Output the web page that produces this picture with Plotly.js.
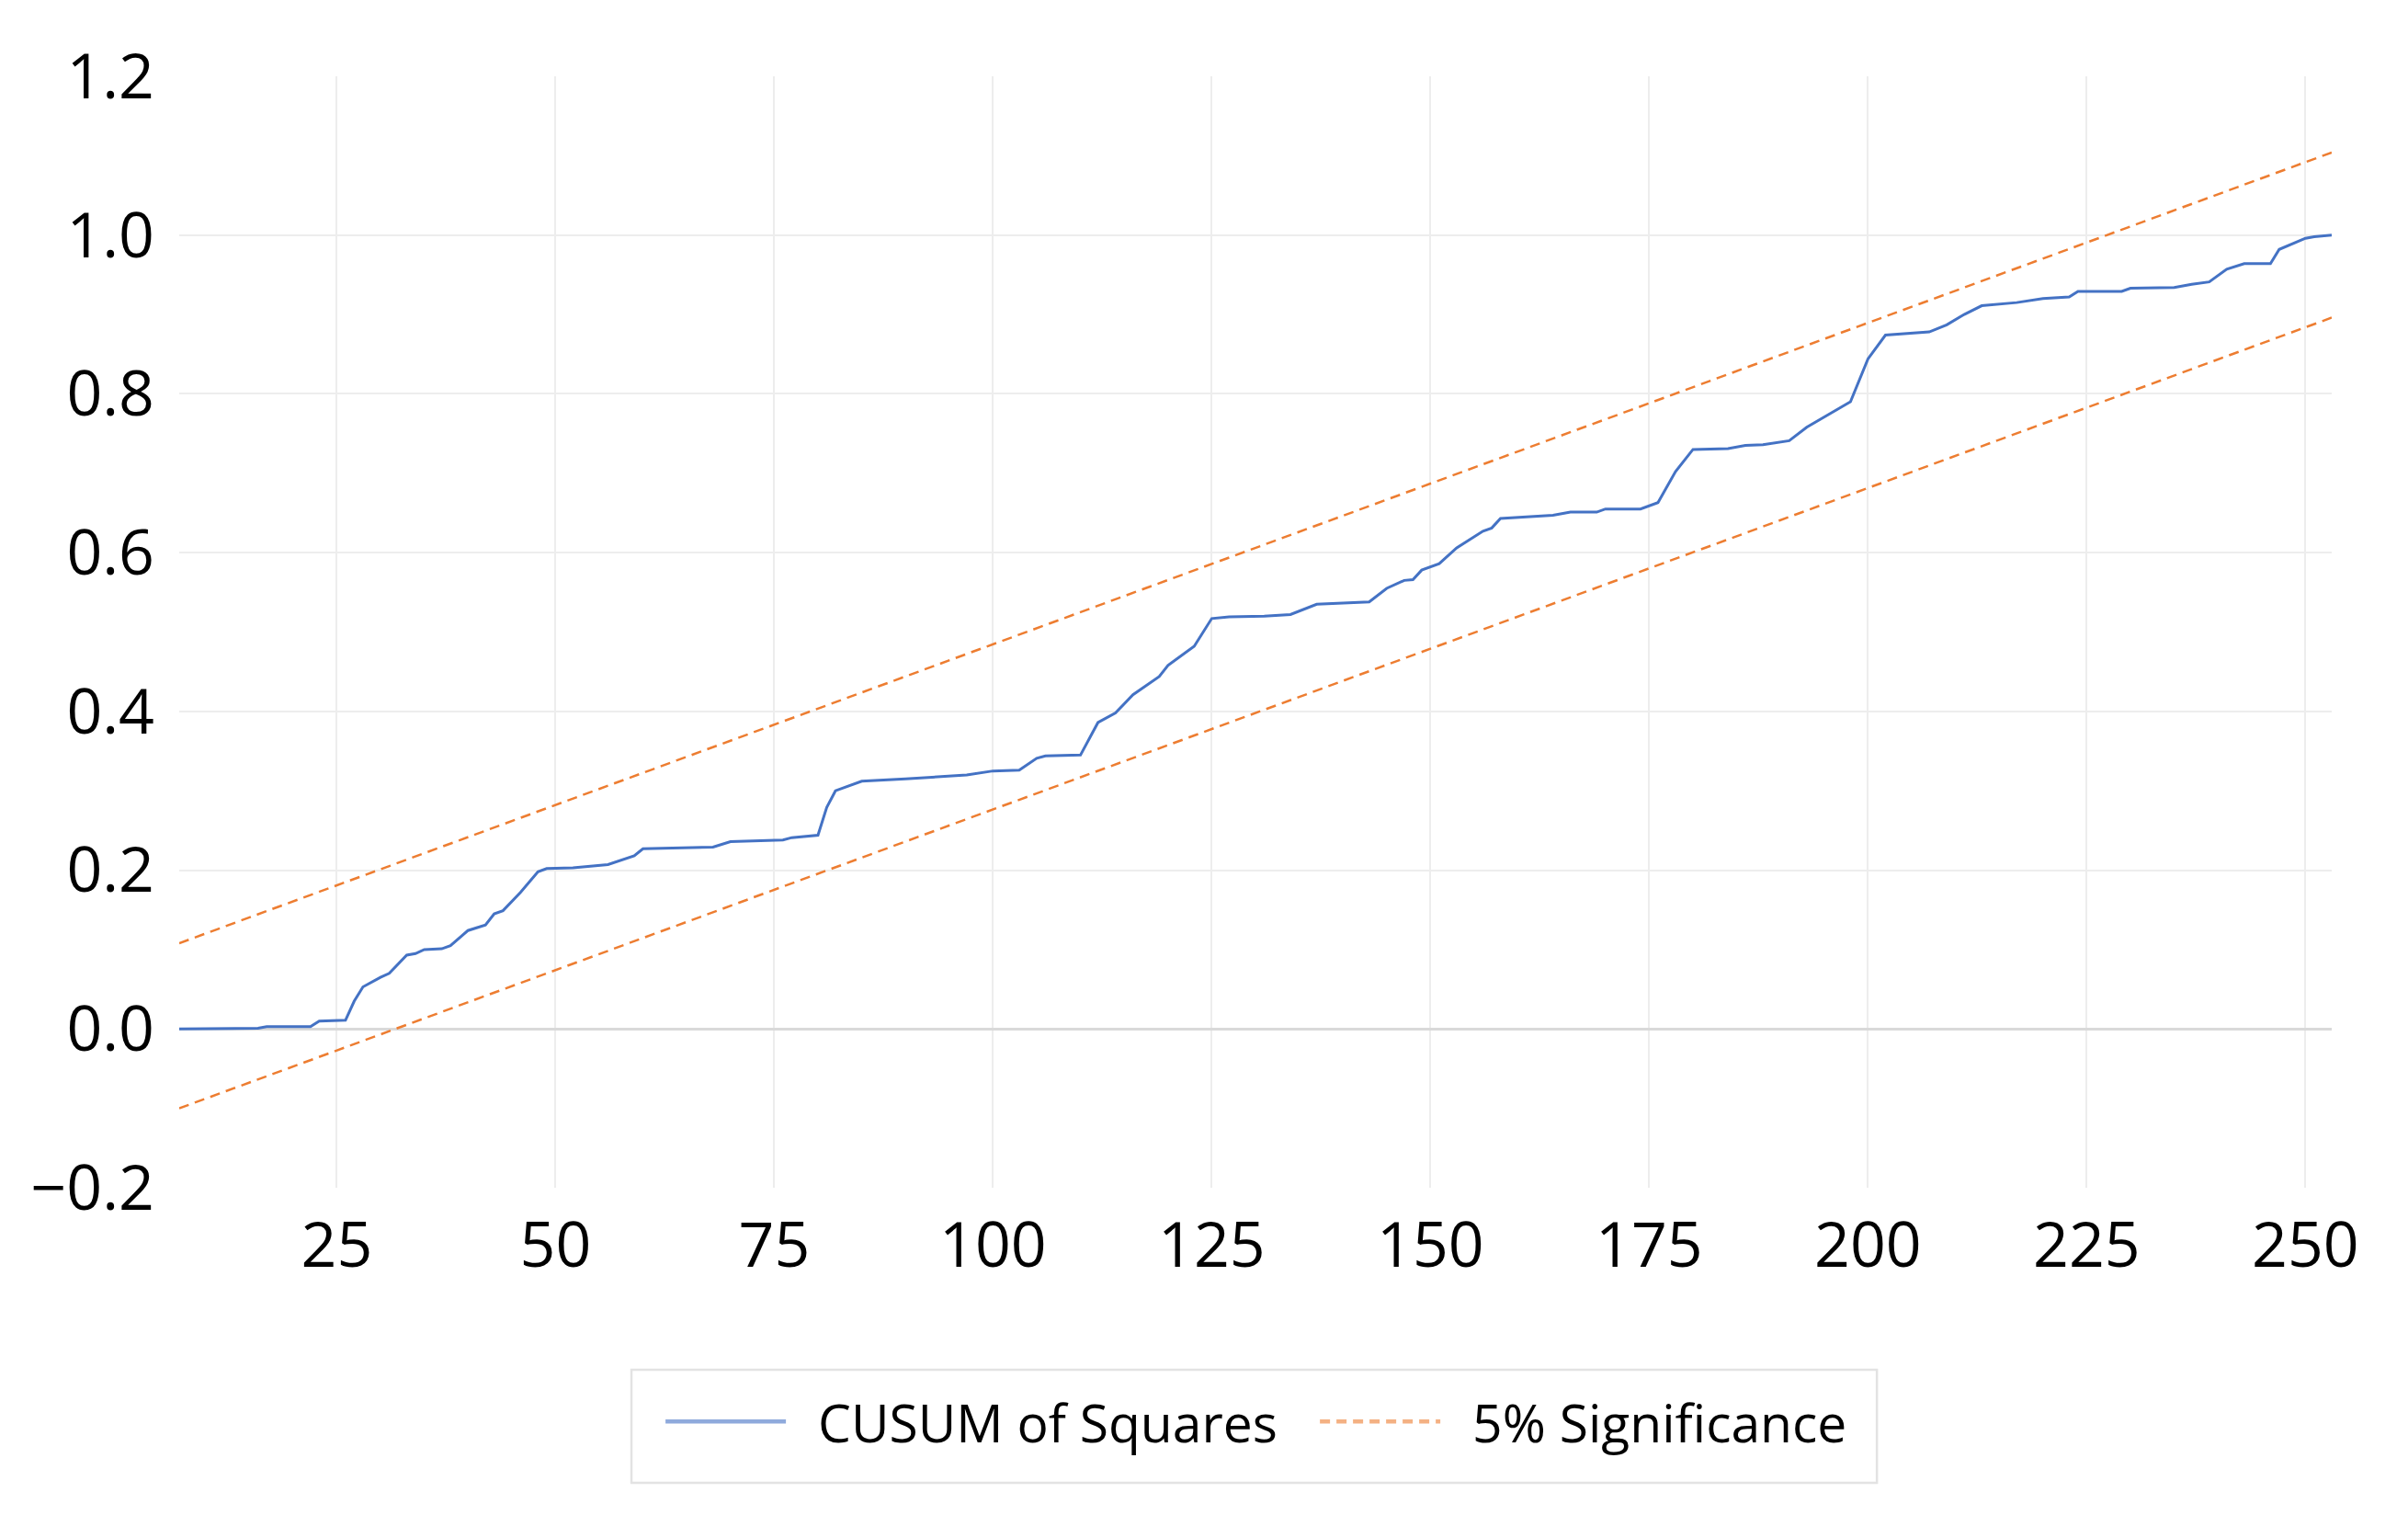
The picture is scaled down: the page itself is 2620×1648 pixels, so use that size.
<!DOCTYPE html>
<html>
<head>
<meta charset="utf-8">
<script src="https://cdn.plot.ly/plotly-3.0.1.min.js"></script>
<style>
  html, body { margin: 0; padding: 0; background: #ffffff; }
  #chart { width: 2620px; height: 1648px; }
</style>
</head>
<body>
<div id="chart"></div>
<script>
// ---- data ----
const obsX = [7, 16, 17, 22, 23, 26, 27, 28, 30, 31, 33, 34, 35, 37, 38, 40, 42, 43, 44, 46, 48, 49, 52, 56, 59, 60, 68, 70, 76, 77, 80, 81, 82, 85, 90, 97, 100, 103, 105, 106, 110, 112, 114, 116, 119, 120, 123, 125, 127, 131, 134, 137, 143, 145, 147, 148, 149, 151, 153, 156, 157, 158, 164, 166, 169, 170, 174, 176, 178, 180, 184, 186, 188, 191, 193, 195, 198, 200, 202, 207, 209, 211, 213, 217, 220, 223, 224, 229, 230, 235, 237, 239, 241, 243, 246, 247, 250, 251, 253];
const cusumSq = [0.000, 0.001, 0.003, 0.003, 0.010, 0.011, 0.035, 0.053, 0.065, 0.070, 0.093, 0.095, 0.100, 0.101, 0.105, 0.124, 0.131, 0.145, 0.149, 0.172, 0.198, 0.202, 0.203, 0.207, 0.218, 0.227, 0.229, 0.236, 0.238, 0.241, 0.244, 0.279, 0.300, 0.312, 0.315, 0.320, 0.325, 0.326, 0.341, 0.344, 0.345, 0.386, 0.398, 0.421, 0.444, 0.458, 0.482, 0.517, 0.519, 0.520, 0.522, 0.535, 0.538, 0.555, 0.565, 0.566, 0.578, 0.586, 0.606, 0.627, 0.631, 0.643, 0.647, 0.651, 0.651, 0.655, 0.655, 0.663, 0.702, 0.730, 0.731, 0.735, 0.736, 0.741, 0.758, 0.771, 0.790, 0.844, 0.874, 0.878, 0.887, 0.900, 0.911, 0.915, 0.920, 0.922, 0.929, 0.929, 0.933, 0.934, 0.938, 0.941, 0.957, 0.964, 0.964, 0.982, 0.996, 0.998, 1.000];
const bandX = [7, 253];
const bandUpper = [0.108, 1.104];
const bandLower = [-0.100, 0.896];
const seriesNames = ["CUSUM of Squares", "5% Significance"];
const xTicks = [25, 50, 75, 100, 125, 150, 175, 200, 225, 250];
const yTicks = [-0.2, 0.0, 0.2, 0.4, 0.6, 0.8, 1.0, 1.2];

const FONT = '"Open Sans", "Liberation Sans", sans-serif';
const blue = '#4472C4';
const orange = '#ED7D31';

const traces = [
  { x: obsX, y: cusumSq, type: 'scatter', mode: 'lines', name: seriesNames[0],
    line: { color: blue, width: 3 } },
  { x: bandX, y: bandUpper, type: 'scatter', mode: 'lines', name: seriesNames[1],
    legendgroup: 'sig', line: { color: orange, width: 2.5, dash: '11px,7px' } },
  { x: bandX, y: bandLower, type: 'scatter', mode: 'lines', name: seriesNames[1],
    legendgroup: 'sig', showlegend: false, line: { color: orange, width: 2.5, dash: '11px,7px' } }
];

const layout = {
  width: 2620, height: 1648,
  paper_bgcolor: '#ffffff', plot_bgcolor: '#ffffff',
  margin: { l: 195, r: 83, t: 83, b: 356, pad: 0 },
  font: { family: FONT, color: '#000000', size: 57 },
  showlegend: true,
  xaxis: {
    range: [7, 253], tickvals: xTicks, ticktext: xTicks.map(String),
    showgrid: true, gridcolor: '#ededed', gridwidth: 2,
    zeroline: false, showline: false, ticks: '',
    ticklabelstandoff: 17,
    tickfont: { family: FONT, size: 68, color: '#000000' }
  },
  yaxis: {
    range: [-0.2, 1.2], tickvals: yTicks, tickformat: '.1f',
    showgrid: true, gridcolor: '#ededed', gridwidth: 2,
    zeroline: true, zerolinecolor: '#d9d9d9', zerolinewidth: 2.5,
    showline: false, ticks: '',
    ticklabelstandoff: 26,
    tickfont: { family: FONT, size: 68, color: '#000000' }
  },
  legend: {
    orientation: 'h', x: 0.5278, xanchor: 'center', y: -0.2107, yanchor: 'middle',
    bgcolor: 'rgba(0,0,0,0)', borderwidth: 0,
    font: { family: FONT, size: 57, color: '#000000' },
    itemwidth: 161, entrywidth: 536, entrywidthmode: 'pixels', traceorder: 'normal'
  },
  shapes: [
    { type: 'rect', xref: 'paper', yref: 'paper', x0: 0.2101, x1: 0.7887, y0: -0.2655, y1: -0.1638,
      line: { color: '#e3e3e3', width: 2.5 }, fillcolor: 'rgba(255,255,255,0)', layer: 'below' }
  ]
};

Plotly.newPlot('chart', traces, layout, { staticPlot: true, displayModeBar: false }).then(function (gd) {
  // legend sample lines: longer than the default and drawn a little heavier, as in the reference
  gd.querySelectorAll('.legend .legendlines path').forEach(function (p) {
    p.setAttribute('d', 'M5,0h131');
    p.style.strokeWidth = '4.5px';
    p.style.opacity = '0.6';
  });
});
</script>
</body>
</html>
